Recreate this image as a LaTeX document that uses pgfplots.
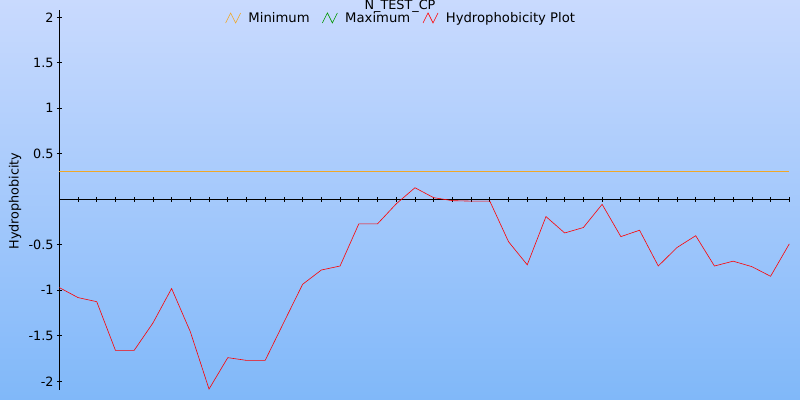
\documentclass[border=0pt]{standalone}
\usepackage{pgfplots}
\pgfplotsset{compat=1.18}
\usepackage{fontspec}
\setmainfont{DejaVu Sans}
\definecolor{bgtop}{RGB}{201,218,254}
\definecolor{bgbot}{RGB}{128,184,249}
\definecolor{minc}{RGB}{240,168,40}
\definecolor{maxc}{RGB}{0,150,0}
\pgfplotstableread{
x y
0 -0.97
1 -1.08
2 -1.125
3 -1.66
4 -1.66
5 -1.36
6 -0.98
7 -1.455
8 -2.085
9 -1.74
10 -1.77
11 -1.77
12 -1.35
13 -0.934
14 -0.777
15 -0.733
16 -0.27
17 -0.27
18 -0.05
19 0.127
20 0.018
21 -0.015
22 -0.02
23 -0.02
24 -0.466
25 -0.72
26 -0.19
27 -0.37
28 -0.31
29 -0.055
30 -0.41
31 -0.34
32 -0.733
33 -0.53
34 -0.40
35 -0.733
36 -0.68
37 -0.74
38 -0.846
39 -0.49
}\hydro
\begin{document}
\fontsize{12.8bp}{15bp}\selectfont
\begin{tikzpicture}
\useasboundingbox (0bp,0bp) rectangle (800bp,400bp);
\shade[top color=bgtop,bottom color=bgbot] (0bp,0bp) rectangle (800bp,400bp);
\begin{axis}[
  at={(59.3bp,200.7bp)}, anchor=origin,
  scale only axis, width=730bp, height=379.5bp,
  xmin=0, xmax=39, ymin=-2.09, ymax=2.08,
  axis lines=middle,
  axis line style={-, line width=0.7bp, black},
  xtick={0,...,39}, xticklabels={},
  ytick={-2,-1.5,-1,-0.5,0.5,1,1.5,2},
  yticklabels={-2,-1.5,-1,-0.5,0.5,1,1.5,2},
  yticklabel style={anchor=east, inner sep=0pt, xshift=-3bp, font=\fontsize{12.8bp}{15bp}\selectfont},
  major tick length=5bp, tick align=center,
  tick style={black, line width=0.7bp},
  no markers,
  every axis plot/.append style={line width=0.6bp},
  clip=false,
  legend columns=3,
  legend style={draw=none, fill=none, at={(0.468,0.979)}, anchor=center,
    font=\fontsize{13.2bp}{15bp}\selectfont,
    nodes={inner sep=1.5bp},
    /tikz/every even column/.append style={column sep=11bp},
    /tikz/every odd column/.append style={column sep=6bp}},
  legend image code/.code={\draw[#1,line width=0.6bp] (0bp,-5bp)--(5bp,5bp)--(10bp,-5bp)--(15bp,5bp);},
]
\addplot[minc, line width=0.6bp] coordinates {(0,0.31) (39,0.31)};
\addlegendentry{Minimum}
\addlegendimage{maxc}
\addlegendentry{Maximum}
\addplot[red] table[x=x,y=y] {\hydro};
\addlegendentry{Hydrophobicity Plot}
\end{axis}
\node[anchor=base] at (400bp,390.5bp) {N\_TEST\_CP};
\node[rotate=90] at (15bp,199bp) {Hydrophobicity};
\end{tikzpicture}
\end{document}
